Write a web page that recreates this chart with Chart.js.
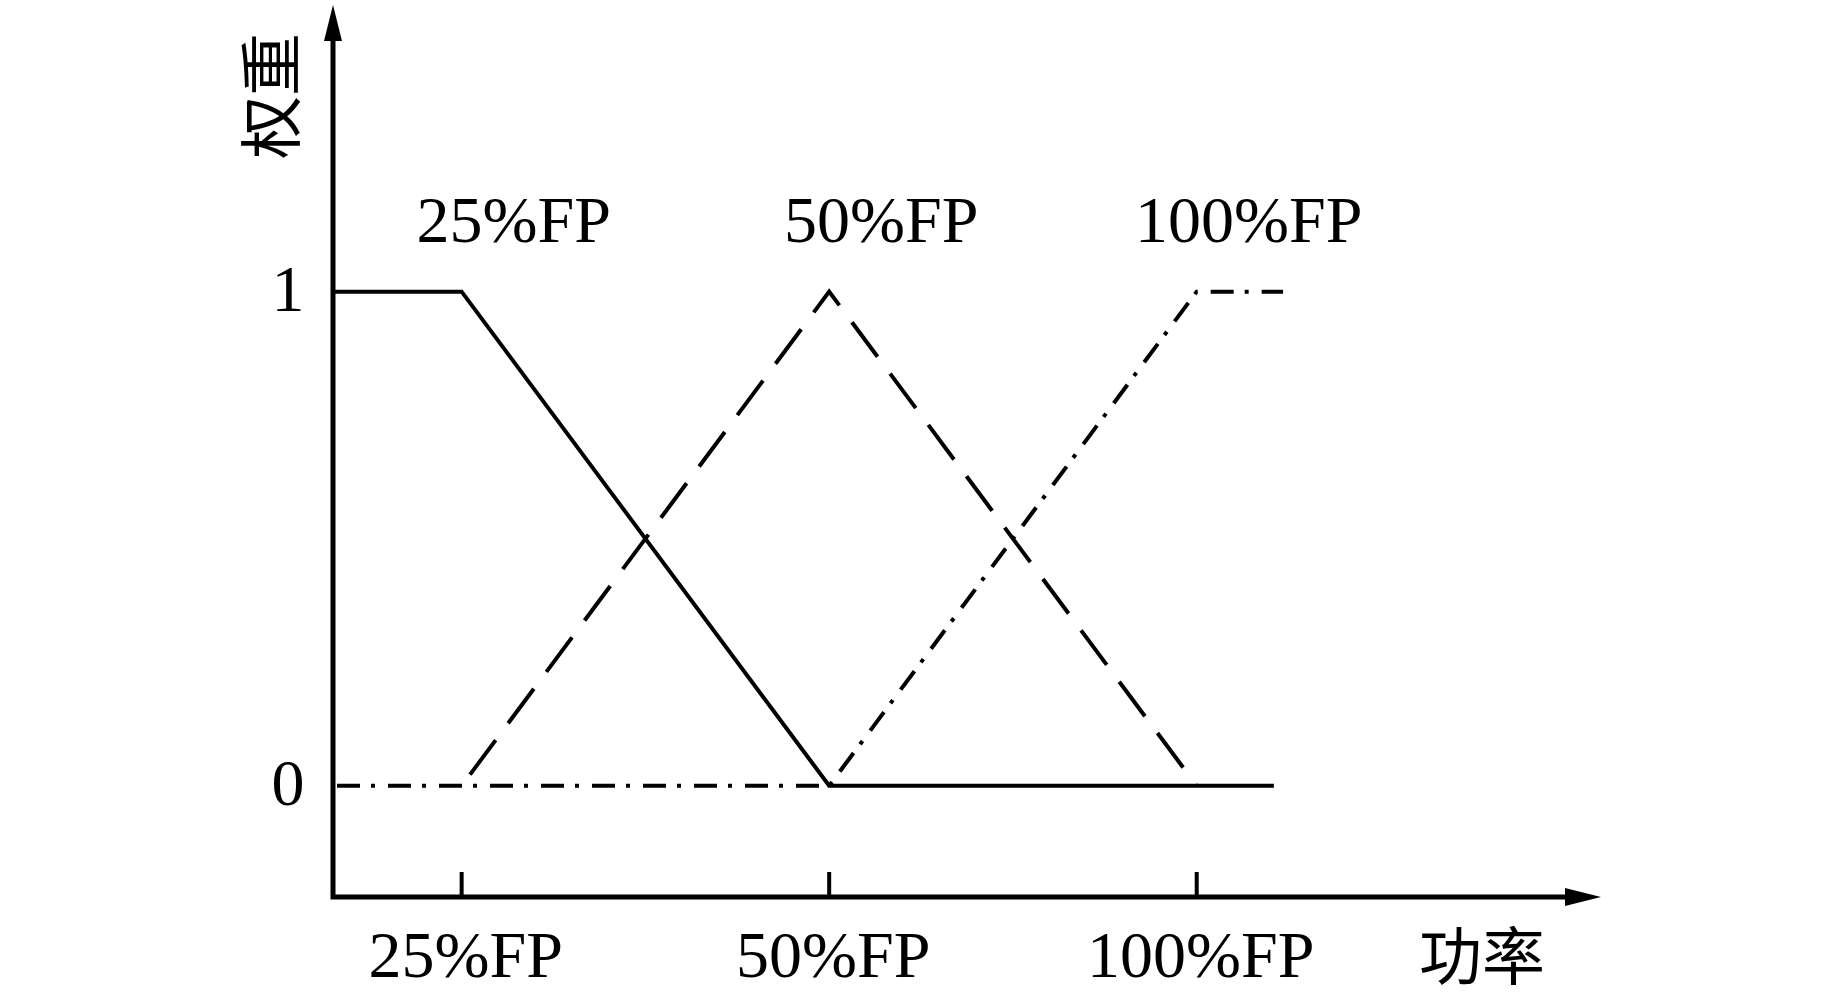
<!DOCTYPE html>
<html>
<head>
<meta charset="utf-8">
<script src="https://cdn.jsdelivr.net/npm/chart.js@4/dist/chart.umd.min.js"></script>
<style>
  html, body { margin: 0; padding: 0; background: #fff; }
  #wrap { width: 1843px; height: 994px; }
</style>
</head>
<body>
<div id="wrap"><canvas id="c" width="1843" height="994"></canvas></div>
<script>
// ---- data ----
const categories = ['25%FP', '50%FP', '100%FP'];      // positions 1,2,3 on x
const categoryPos = [1, 2, 3];
const yTickValues = [0, 1];
const yTickLabels = ['0', '1'];
const xAxisTitle = '功率';
const yAxisTitle = '权重';
const seriesNames = ['25%FP', '50%FP', '100%FP'];
const xMin = 0.65, xMax = 4.1;
const yMin = -0.225, yMax = 1.58;

const s25x = [0.65, 1, 2, 3.21];
const s25y = [1, 1, 0, 0];
const s50x = [1, 2, 3];
const s50y = [0, 1, 0];
const s100x = [0.65, 2, 3, 3.235];
const s100y = [0, 0, 1, 1];

const zip = (xs, ys) => xs.map((x, i) => ({ x: x, y: ys[i] }));

const SERIF = '"Liberation Serif", "Times New Roman", serif';
const CJK = '"Noto Sans CJK SC", sans-serif';

const axesPlugin = {
  id: 'axesPlugin',
  afterDraw(chart) {
    const ctx = chart.ctx;
    const xs = chart.scales.x, ys = chart.scales.y;
    const x0 = xs.getPixelForValue(xMin);
    const xEnd = xs.getPixelForValue(xMax);
    const y0 = ys.getPixelForValue(yMin);
    const yEnd = ys.getPixelForValue(yMax);
    ctx.save();
    ctx.fillStyle = '#000';
    ctx.strokeStyle = '#000';
    ctx.lineCap = 'butt';
    // axes lines
    ctx.lineWidth = 5;
    ctx.beginPath();
    ctx.moveTo(x0, y0 + 2.5);
    ctx.lineTo(x0, yEnd + 30);
    ctx.moveTo(x0 - 2.5, y0);
    ctx.lineTo(xEnd - 30, y0);
    ctx.stroke();
    // arrows
    ctx.beginPath();
    ctx.moveTo(x0, yEnd);
    ctx.lineTo(x0 - 9, yEnd + 36);
    ctx.lineTo(x0 + 9, yEnd + 36);
    ctx.closePath();
    ctx.fill();
    ctx.beginPath();
    ctx.moveTo(xEnd, y0);
    ctx.lineTo(xEnd - 36, y0 - 9);
    ctx.lineTo(xEnd - 36, y0 + 9);
    ctx.closePath();
    ctx.fill();
    // inner tick marks
    ctx.lineWidth = 4;
    ctx.beginPath();
    categoryPos.forEach(v => {
      const px = xs.getPixelForValue(v);
      ctx.moveTo(px, y0);
      ctx.lineTo(px, y0 - 25);
    });
    ctx.stroke();
    // x tick labels
    ctx.font = '66px ' + SERIF;
    ctx.textAlign = 'center';
    ctx.textBaseline = 'alphabetic';
    categories.forEach((lab, i) => {
      const px = xs.getPixelForValue(categoryPos[i]);
      ctx.fillText(lab, px + 4, y0 + 80);
    });
    // y tick labels
    yTickValues.forEach((v, i) => {
      const py = ys.getPixelForValue(v);
      ctx.fillText(yTickLabels[i], x0 - 45, py + 19);
    });
    // series name labels above peaks
    const yTop = ys.getPixelForValue(1);
    seriesNames.forEach((lab, i) => {
      const px = xs.getPixelForValue(categoryPos[i]);
      ctx.fillText(lab, px + 52, yTop - 50);
    });
    // axis titles
    ctx.font = '63px ' + CJK;
    ctx.textBaseline = 'middle';
    ctx.fillText(xAxisTitle, 1482, 955);
    ctx.save();
    ctx.translate(270, 96);
    ctx.rotate(-Math.PI / 2);
    ctx.fillText(yAxisTitle, 0, 0);
    ctx.restore();
    ctx.restore();
  }
};

new Chart(document.getElementById('c'), {
  type: 'line',
  data: {
    datasets: [
      {
        label: seriesNames[0],
        data: zip(s25x, s25y),
        borderColor: '#000',
        borderWidth: 4,
        borderCapStyle: 'butt',
        fill: false,
        clip: false
      },
      {
        label: seriesNames[1],
        data: zip(s50x, s50y),
        borderColor: '#000',
        borderWidth: 4,
        borderDash: [43, 21],
        borderDashOffset: 50,
        borderCapStyle: 'butt',
        fill: false,
        clip: false
      },
      {
        label: seriesNames[2],
        data: zip(s100x, s100y),
        borderColor: '#000',
        borderWidth: 4,
        borderDash: [23, 11, 4, 13],
        borderDashOffset: 47,
        borderCapStyle: 'butt',
        fill: false,
        clip: false
      }
    ]
  },
  options: {
    responsive: false,
    devicePixelRatio: 1,
    animation: false,
    layout: { padding: { left: 333, right: 242, top: 5, bottom: 97 } },
    elements: { point: { radius: 0, hoverRadius: 0 }, line: { tension: 0 } },
    plugins: { legend: { display: false }, tooltip: { enabled: false } },
    events: [],
    scales: {
      x: { type: 'linear', min: xMin, max: xMax, display: false },
      y: { type: 'linear', min: yMin, max: yMax, display: false }
    }
  },
  plugins: [axesPlugin]
});
</script>
</body>
</html>
